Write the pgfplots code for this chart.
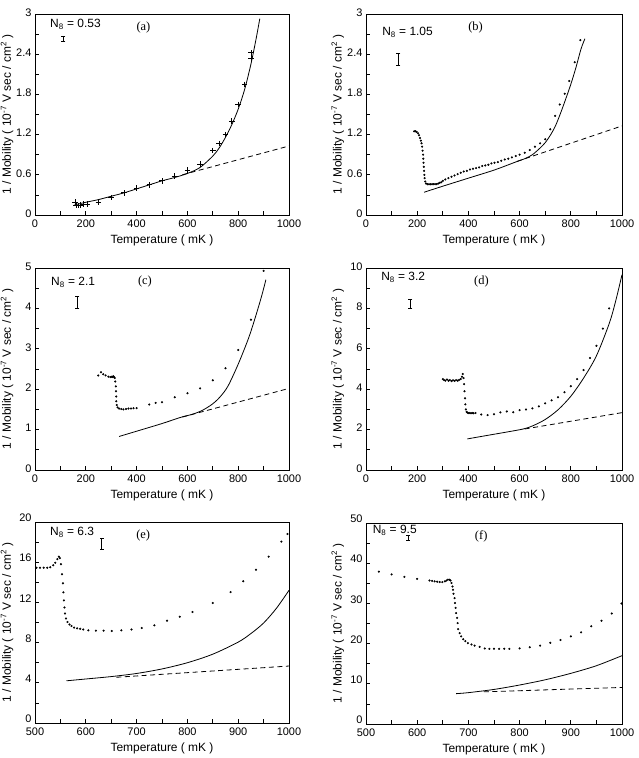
\documentclass[border=0pt]{standalone}
\usepackage{fontspec}
\setmainfont{Liberation Sans}
\newfontfamily\seriffont{Liberation Serif}
\usepackage{pgfplots}
\pgfplotsset{compat=1.18}
\newcommand\tickfont{\fontsize{11}{12}\selectfont}
\newcommand\labfont{\fontsize{12}{13}\selectfont}
\newcommand\pfont{\seriffont\fontsize{12.5}{14}\selectfont}
\pgfplotsset{
 panel/.style={
  height=201bp, scale only axis,
  axis line style={line width=0.9bp},
  every tick/.style={black, line width=0.7bp},
  tick align=inside, xtick pos=bottom, ytick pos=left,
  major tick length=4bp, minor tick length=4bp,
  tick label style={font=\tickfont},
  xticklabel style={yshift=-1.5bp},
  yticklabel style={yshift=1.5bp},
  /pgf/number format/assume math mode=true,
  /pgf/number format/1000 sep={},
  scaled ticks=false,
  xlabel={Temperature ( mK )},
  ylabel={1 / Mobility ( 10\textsuperscript{-7} V sec / cm\textsuperscript{2} )},
  label style={font=\labfont},
  xlabel style={at={(axis description cs:0.5,-0.125)}, anchor=center},
  ylabel style={at={(axis description cs:-0.11,0.5)}, anchor=center},
 },
 dots/.style={only marks, mark=*, mark size=0.85bp, black},
 crosses/.style={only marks, mark=+, mark size=2.8bp, black, line width=0.8bp},
 fit/.style={black, line width=0.8bp, smooth, no markers},
 lin/.style={black, line width=0.8bp, dash pattern=on 5bp off 3.5bp, no markers},
 ebar/.style={black, line width=0.7bp, mark=-, mark size=2bp, mark options={solid, line width=0.7bp}},
}
\begin{document}
\begin{tikzpicture}
\useasboundingbox (0,0) rectangle (639bp,-758bp);
% (a)
\begin{axis}[panel, width=254bp, at={(35bp,-215bp)}, anchor=south west,
  xmin=0,xmax=1000,ymin=0,ymax=3,
  xtick={0,200,...,1000}, minor xtick={100,300,...,900},
  ytick={0,0.6,1.2,1.8,2.4,3}, minor ytick={0.3,0.9,1.5,2.1,2.7}]
\addplot[crosses] coordinates {(158,0.19)(162,0.15)(170,0.14)(180,0.15)(190,0.16)
 (206,0.16)(250,0.19)(300,0.26)(350,0.33)(400,0.40)(450,0.45)(500,0.51)(550,0.58)
 (600,0.67)(650,0.76)(700,0.96)(725,1.07)(750,1.20)(775,1.40)(800,1.65)(825,1.95)(850,2.33)(850,2.42)};
\addplot[fit] coordinates {(155,0.15)(200,0.19)(250,0.23)(300,0.28)(350,0.33)(400,0.39)(450,0.45)
 (500,0.51)(550,0.56)(600,0.62)(650,0.71)(700,0.88)(725,1.0)(750,1.16)(775,1.35)(800,1.58)
 (825,1.87)(850,2.25)(870,2.62)(885,2.93)};
\addplot[lin] coordinates {(580,0.60)(1000,1.03)};
\addplot[ebar] coordinates {(112,2.59)(112,2.67)};
\node[anchor=west, font=\labfont] at (axis description cs:0.046,0.95) {N\textsubscript{8} = 0.53};
\node[font=\pfont] at (axis cs:427,2.8) {(a)};
\end{axis}
% (b)
\begin{axis}[panel, width=256bp, at={(366bp,-215bp)}, anchor=south west,
  xmin=0,xmax=1000,ymin=0,ymax=3,
  xtick={0,200,...,1000}, minor xtick={100,300,...,900},
  ytick={0,0.6,1.2,1.8,2.4,3}, minor ytick={0.3,0.9,1.5,2.1,2.7}]
\addplot[dots] coordinates {(188,1.25)(193,1.25)(198,1.24)(203,1.22)(207,1.19)(211,1.15)(214,1.11)
 (217,1.07)(219,1.02)(221,0.96)(223,0.90)(224,0.84)(225,0.78)(226,0.72)(227,0.66)(228,0.60)
 (229,0.55)(231,0.50)(234,0.47)(240,0.46)(246,0.46)(252,0.46)(258,0.46)(264,0.46)(270,0.46)
 (276,0.46)(282,0.47)(288,0.48)(294,0.49)(300,0.51)(310,0.53)(322,0.55)(334,0.57)(346,0.59)
 (358,0.61)(370,0.63)(382,0.65)(394,0.66)(406,0.68)(418,0.69)(430,0.70)(442,0.71)(454,0.73)
 (466,0.74)(478,0.75)(490,0.77)(502,0.78)(515,0.79)(528,0.81)(542,0.83)(556,0.84)(570,0.86)
 (585,0.88)(600,0.90)(620,0.93)(640,0.97)(660,1.02)(680,1.07)(700,1.13)(720,1.28)(739,1.48)
 (757,1.65)(776,1.81)(794,2.00)(815,2.28)(837,2.61)};
\addplot[fit] coordinates {(227,0.34)(300,0.43)(400,0.55)(500,0.67)(584,0.79)(620,0.84)(650,0.90)
 (680,1.0)(700,1.08)(720,1.19)(740,1.33)(760,1.52)(780,1.73)(800,1.95)(820,2.20)(840,2.48)(855,2.63)};
\addplot[lin] coordinates {(590,0.80)(1000,1.33)};
\addplot[ebar] coordinates {(126,2.24)(126,2.42)};
\node[anchor=west, font=\labfont] at (axis description cs:0.05,0.91) {N\textsubscript{8} = 1.05};
\node[font=\pfont] at (axis cs:428,2.8) {(b)};
\end{axis}
% (c)
\begin{axis}[panel, width=254bp, at={(35bp,-470bp)}, anchor=south west, height=202bp,
  xmin=0,xmax=1000,ymin=0,ymax=5,
  xtick={0,200,...,1000}, minor xtick={100,300,...,900},
  ytick={0,1,...,5}, minor ytick={0.5,1.5,...,4.5}]
\addplot[dots] coordinates {(249,2.34)(260,2.42)(269,2.37)(278,2.34)(289,2.31)(297,2.30)(302,2.31)
 (305,2.30)(308,2.32)(311,2.30)(314,2.28)(316,2.19)(318,2.07)(319,1.95)(320,1.82)(320,1.70)
 (322,1.61)(325,1.55)(331,1.52)(340,1.51)(348,1.50)(358,1.51)(368,1.52)(378,1.52)(388,1.53)
 (400,1.53)(450,1.62)(475,1.66)(500,1.68)(550,1.80)(600,1.90)(650,2.02)(700,2.22)(750,2.52)
 (800,2.97)(850,3.72)(900,4.93)};
\addplot[fit] coordinates {(331,0.83)(400,0.96)(500,1.15)(577,1.31)(620,1.38)(660,1.48)(700,1.64)
 (730,1.82)(760,2.08)(800,2.62)(840,3.25)(866,3.75)(892,4.3)(909,4.71)};
\addplot[lin] coordinates {(580,1.31)(1000,2.02)};
\addplot[ebar] coordinates {(167,4.0)(167,4.3)};
\node[anchor=west, font=\labfont] at (axis description cs:0.05,0.93) {N\textsubscript{8} = 2.1};
\node[font=\pfont] at (axis cs:433,4.67) {(c)};
\end{axis}
% (d)
\begin{axis}[panel, width=256bp, at={(366bp,-470bp)}, anchor=south west, height=202bp,
  xmin=0,xmax=1000,ymin=0,ymax=10,
  xtick={0,200,...,1000}, minor xtick={100,300,...,900},
  ytick={0,2,...,10}, minor ytick={1,3,...,9}]
\addplot[dots] coordinates {(300,4.5)(305,4.45)(310,4.42)(316,4.48)(322,4.42)(328,4.45)(334,4.40)
 (340,4.44)(346,4.41)(352,4.45)(358,4.42)(364,4.46)(370,4.50)(375,4.62)(378,4.75)(381,4.55)
 (383,4.25)(385,3.9)(387,3.55)(388,3.25)(390,3.0)(393,2.88)(396,2.84)(400,2.82)(405,2.82)
 (410,2.81)(415,2.82)(420,2.81)(428,2.82)(450,2.75)(475,2.72)(500,2.76)(525,2.85)(550,2.9)
 (575,2.86)(600,2.96)(625,3.0)(650,3.05)(675,3.15)(700,3.3)(725,3.45)(750,3.6)(775,3.85)
 (800,4.15)(825,4.5)(850,4.95)(875,5.55)(900,6.15)(925,7.0)(950,8.0)};
\addplot[fit] coordinates {(396,1.54)(450,1.66)(500,1.77)(550,1.88)(614,2.03)(650,2.18)(700,2.5)
 (750,2.98)(800,3.65)(850,4.55)(900,5.65)(950,7.25)(975,8.35)(1000,9.67)};
\addplot[lin] coordinates {(620,2.03)(1000,2.84)};
\addplot[ebar] coordinates {(173,8.0)(173,8.46)};
\node[anchor=west, font=\labfont] at (axis description cs:0.046,0.955) {N\textsubscript{8} = 3.2};
\node[font=\pfont] at (axis cs:451,9.35) {(d)};
\end{axis}
% (e)
\begin{axis}[panel, width=254bp, at={(35bp,-723bp)}, anchor=south west,
  xmin=500,xmax=1000,ymin=0,ymax=20,
  xtick={500,600,...,1000}, minor xtick={550,650,...,950},
  ytick={0,4,...,20}, minor ytick={2,6,...,18},
  yticklabel style={yshift=2.5bp}]
\addplot[dots] coordinates {(503,15.45)(510,15.45)(517,15.45)(524,15.45)(530,15.5)(536,15.7)
 (540,15.95)(544,16.3)(547,16.55)(549,16.4)(551,15.8)(553,14.8)(555,13.9)(556,13.0)(557,12.2)
 (558,11.5)(559,10.9)(561,10.4)(564,10.05)(568,9.8)(572,9.65)(577,9.5)(583,9.42)(589,9.37)
 (595,9.3)(605,9.22)(620,9.19)(635,9.19)(651,9.15)(670,9.22)(690,9.3)(710,9.45)(735,9.72)
 (760,10.18)(785,10.58)(810,11.04)(850,11.94)(885,13.03)(910,14.1)(935,15.25)(960,16.55)
 (985,18.05)(997,18.8)};
\addplot[fit] coordinates {(562,4.2)(600,4.38)(650,4.62)(700,4.93)(750,5.38)(800,6.0)(850,6.85)
 (900,8.05)(925,8.9)(950,9.95)(975,11.4)(1000,13.2)};
\addplot[lin] coordinates {(660,4.55)(1000,5.67)};
\addplot[ebar] coordinates {(631,17.27)(631,18.33)};
\node[anchor=west, font=\labfont] at (axis description cs:0.046,0.95) {N\textsubscript{8} = 6.3};
\node[font=\pfont] at (axis cs:713,18.67) {(e)};
\end{axis}
% (f)
\begin{axis}[panel, width=256bp, at={(366bp,-724bp)}, anchor=south west,
  xmin=500,xmax=1000,ymin=0,ymax=50,
  xtick={500,600,...,1000}, minor xtick={550,650,...,950},
  ytick={0,10,...,50}, minor ytick={5,15,...,45},
  yticklabel style={yshift=2.5bp}]
\addplot[dots] coordinates {(525,37.9)(550,37.2)(575,36.6)(600,36.1)(624,35.7)(629,35.6)(634,35.5)
 (639,35.4)(644,35.3)(649,35.3)(654,35.5)(657,35.7)(660,35.9)(663,35.9)(665,35.7)(667,35.1)
 (669,34.2)(670,33.4)(671,32.4)(673,31.3)(674,30.1)(675,28.9)(676,27.6)(678,26.4)(679,25.1)
 (680,23.6)(683,22.6)(686,21.8)(690,21.1)(694,20.6)(699,20.1)(706,19.8)(712,19.5)(722,19.2)
 (732,18.8)(741,18.7)(750,18.7)(760,18.7)(770,18.7)(780,18.7)(800,18.8)(820,19.1)(840,19.5)
 (860,20.2)(880,20.9)(900,21.8)(920,22.8)(940,24.3)(960,25.7)(980,27.5)(999,30.0)};
\addplot[fit] coordinates {(676,7.55)(700,7.8)(750,8.6)(800,9.7)(850,11.0)(900,12.6)(950,14.5)(1000,17.0)};
\addplot[lin] coordinates {(730,8.0)(1000,9.1)};
\addplot[ebar] coordinates {(582,45.6)(582,47.0)};
\node[anchor=west, font=\labfont] at (axis description cs:0.013,0.965) {N\textsubscript{8} = 9.5};
\node[font=\pfont] at (axis cs:725,46.7) {(f)};
\end{axis}
\end{tikzpicture}
\end{document}
